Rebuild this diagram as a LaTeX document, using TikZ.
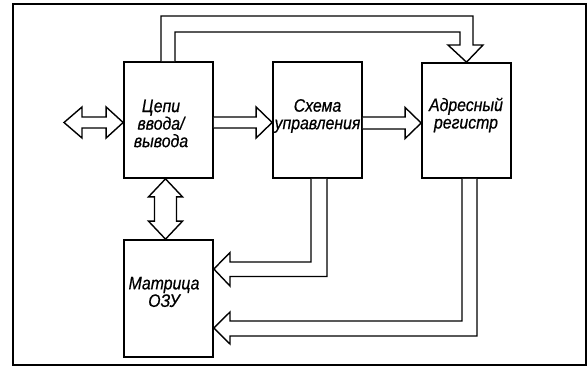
\documentclass[tikz,border=0pt]{standalone}
\usepackage{fontspec}
\setmainfont{Liberation Sans}[FakeStretch=0.88, FakeBold=0.6]
\usetikzlibrary{calc}
\tikzset{
  blockbox/.style={draw, line width=1.7pt, minimum width=89pt, inner sep=0pt},
  lbl/.style={font=\fontsize{18}{17.5}\selectfont\itshape, align=center, inner sep=0pt},
  bus/.style={draw, line width=1.4pt, fill=white, line join=miter},
  frame/.style={draw, line width=1.2pt}
}
\begin{document}
\begin{tikzpicture}[x=1pt,y=-1pt]
\useasboundingbox (0,0) rectangle (587,368);
\draw[frame] (13,4) rectangle (586,365);

% blocks
\node[blockbox, minimum height=116pt] (c1) at (168.5,120) {};
\node[blockbox, minimum height=116pt] (c2) at (317.5,120) {};
\node[blockbox, minimum height=115pt] (c3) at (466.5,120.5) {};
\node[blockbox, minimum height=117pt] (c4) at (168.5,298.5) {};

% labels
\node[lbl] (t1) at (161,123.5) {Цепи\\ввода/\\вывода};
\node[lbl] (t2) at (317.5,116) {Схема\\управления};
\node[lbl] (t3) at (466,115) {Адресный\\регистр};
\node[lbl] (t4) at (164,292) {Матрица\\ОЗУ};

% external <-> c1
\coordinate (ext) at (64,122.5);
\draw[bus] (ext) -- ++(18,-15.5) -- ++(0,10) -- ($(c1.west|-ext)+(-17,-5.5)$) -- ++(0,-10)
  -- (c1.west|-ext) -- ++(-17,15.5) -- ++(0,-10) -- ($(ext)+(18,5.5)$) -- ++(0,10) -- cycle;

% c1 -> c2
\coordinate (a12) at (213,122.5);
\draw[bus] ($(c1.east|-a12)+(0,-5.5)$) -- ($(c2.west|-a12)+(-16,-5.5)$) -- ++(0,-10) -- (c2.west|-a12)
  -- ($(c2.west|-a12)+(-16,15.5)$) -- ++(0,-10) -- ($(c1.east|-a12)+(0,5.5)$);

% c2 -> c3
\coordinate (a23) at (362,123);
\draw[bus] ($(c2.east|-a23)+(0,-6)$) -- ($(c3.west|-a23)+(-16,-6)$) -- ++(0,-9.5) -- (c3.west|-a23)
  -- ($(c3.west|-a23)+(-16,15.5)$) -- ++(0,-9.5) -- ($(c2.east|-a23)+(0,6)$);

% c1 <-> c4
\coordinate (vx) at (165.5,0);
\draw[bus] (vx|-c1.south) -- ++(17,18) -- ++(-6,0) -- ($(vx|-c4.north)+(11,-18)$) -- ++(6,0)
  -- (vx|-c4.north) -- ++(-17,-18) -- ++(6,0) -- ($(vx|-c1.south)+(-11,18)$) -- ++(-6,0) -- cycle;

% c1 -> c3 (top)
\draw[bus] (161,0|-c1.north) -- (161,16) -- (473,16) -- (473,45) -- (483,45)
  -- (c3.north) -- (448,45) -- (460,45) -- (460,32) -- (175,32) -- (175,0|-c1.north);

% c2 -> c4
\draw[bus] (327,0|-c2.south) -- (327,276.5) -- (230,276.5) -- (230,286)
  -- (c4.east|-0,269) -- (230,252.5) -- (230,262) -- (311,262) -- (311,0|-c2.south);

% c3 -> c4
\draw[bus] (477,0|-c3.south) -- (477,336) -- (230,336) -- (230,344)
  -- (c4.east|-0,328) -- (230,312) -- (230,321) -- (462,321) -- (462,0|-c3.south);
\end{tikzpicture}
\end{document}
